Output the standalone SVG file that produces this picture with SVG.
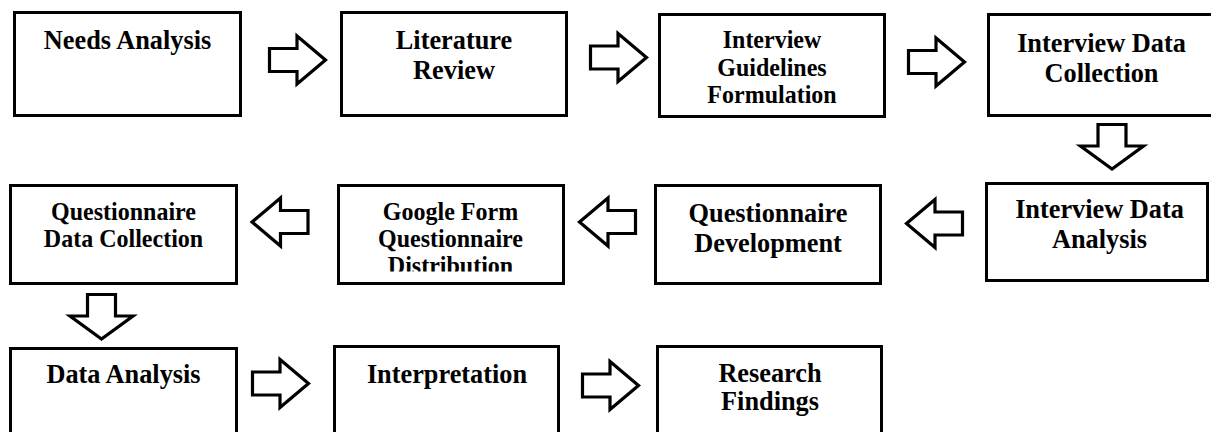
<svg xmlns="http://www.w3.org/2000/svg" xmlns:xlink="http://www.w3.org/1999/xlink" width="1211" height="432" viewBox="0 0 1211 432">
  <style>
    .box { fill: #ffffff; stroke: #000000; stroke-width: 3; }
    .arr { fill: #ffffff; stroke: #000000; stroke-width: 3.2; stroke-linejoin: miter; stroke-miterlimit: 10; }
    .t { font-family: "Liberation Serif", "Times New Roman", serif; font-weight: bold; font-size: 28px; fill: #000000; text-anchor: middle; }
    .s { font-size: 25px; }
  </style>
  <defs>
    <path id="rarrow" d="M1.5,-11.5 L29,-11.5 L29,-24 L57.5,0 L29,24 L29,11.5 L1.5,11.5 Z"/>
    <path id="darrow" d="M-14,1.5 L14,1.5 L14,23 L31.5,23 L0,46 L-31.5,23 L-14,23 Z"/>
    <clipPath id="gfclip"><rect x="338" y="185" width="226" height="86.5"/></clipPath>
  </defs>
  <rect x="0" y="0" width="1211" height="432" fill="#ffffff"/>

  <g id="connectors">
    <use xlink:href="#rarrow" class="arr" transform="translate(268,60)"/>
    <use xlink:href="#rarrow" class="arr" transform="translate(589,57.5)"/>
    <use xlink:href="#rarrow" class="arr" transform="translate(907,62)"/>
    <use xlink:href="#darrow" class="arr" transform="translate(1112,123)"/>
    <use xlink:href="#rarrow" class="arr" transform="translate(964,223.5) scale(-1,1)"/>
    <use xlink:href="#rarrow" class="arr" transform="translate(637,222) scale(-1,1)"/>
    <use xlink:href="#rarrow" class="arr" transform="translate(309.5,222) scale(-1,1)"/>
    <use xlink:href="#darrow" class="arr" transform="translate(101.5,293)"/>
    <use xlink:href="#rarrow" class="arr" transform="translate(251,383.5)"/>
    <use xlink:href="#rarrow" class="arr" transform="translate(581,385.5)"/>
  </g>

  <g id="needs-analysis">
    <rect class="box" x="14.5" y="12.5" width="226" height="103"/>
    <g transform="translate(127.5,0) scale(0.94,1)">
      <text class="t" x="0" y="49">Needs Analysis</text>
    </g>
  </g>
  <g id="literature-review">
    <rect class="box" x="341.5" y="12.5" width="225" height="103"/>
    <g transform="translate(454,0) scale(0.94,1)">
      <text class="t" x="0" y="49">Literature</text>
      <text class="t" x="0" y="79">Review</text>
    </g>
  </g>
  <g id="interview-guidelines">
    <rect class="box" x="659.5" y="14.5" width="225" height="102"/>
    <g transform="translate(772,0) scale(0.96,1)">
      <text class="t s" x="0" y="48">Interview</text>
      <text class="t s" x="0" y="76">Guidelines</text>
      <text class="t s" x="0" y="103">Formulation</text>
    </g>
  </g>
  <g id="interview-data-collection">
    <rect class="box" x="988.5" y="14.5" width="226" height="101"/>
    <g transform="translate(1101.5,0) scale(0.94,1)">
      <text class="t" x="0" y="52">Interview Data</text>
      <text class="t" x="0" y="82">Collection</text>
    </g>
  </g>
  <g id="interview-data-analysis">
    <rect class="box" x="986.5" y="183.5" width="221" height="97"/>
    <g transform="translate(1099.5,0) scale(0.94,1)">
      <text class="t" x="0" y="218">Interview Data</text>
      <text class="t" x="0" y="248">Analysis</text>
    </g>
  </g>
  <g id="questionnaire-development">
    <rect class="box" x="655.5" y="185.5" width="225" height="98"/>
    <g transform="translate(768,0) scale(0.94,1)">
      <text class="t" x="0" y="222">Questionnaire</text>
      <text class="t" x="0" y="252">Development</text>
    </g>
  </g>
  <g id="google-form">
    <rect class="box" x="338.5" y="185.5" width="225" height="98"/>
    <g clip-path="url(#gfclip)">
      <g transform="translate(450.5,0) scale(0.96,1)">
        <text class="t s" x="0" y="220">Google Form</text>
        <text class="t s" x="0" y="247">Questionnaire</text>
        <text class="t s" x="0" y="274">Distribution</text>
      </g>
    </g>
  </g>
  <g id="questionnaire-data-collection">
    <rect class="box" x="10.5" y="185.5" width="226" height="98"/>
    <g transform="translate(123.5,0) scale(0.96,1)">
      <text class="t s" x="0" y="220">Questionnaire</text>
      <text class="t s" x="0" y="247">Data Collection</text>
    </g>
  </g>
  <g id="data-analysis">
    <rect class="box" x="10.5" y="348.5" width="226" height="100"/>
    <g transform="translate(123.5,0) scale(0.94,1)">
      <text class="t" x="0" y="383">Data Analysis</text>
    </g>
  </g>
  <g id="interpretation">
    <rect class="box" x="334.5" y="346.5" width="224" height="100"/>
    <g transform="translate(447,0) scale(0.94,1)">
      <text class="t" x="0" y="383">Interpretation</text>
    </g>
  </g>
  <g id="research-findings">
    <rect class="box" x="657.5" y="346.5" width="224" height="100"/>
    <g transform="translate(770,0) scale(0.94,1)">
      <text class="t" x="0" y="382">Research</text>
      <text class="t" x="0" y="410">Findings</text>
    </g>
  </g>
</svg>
